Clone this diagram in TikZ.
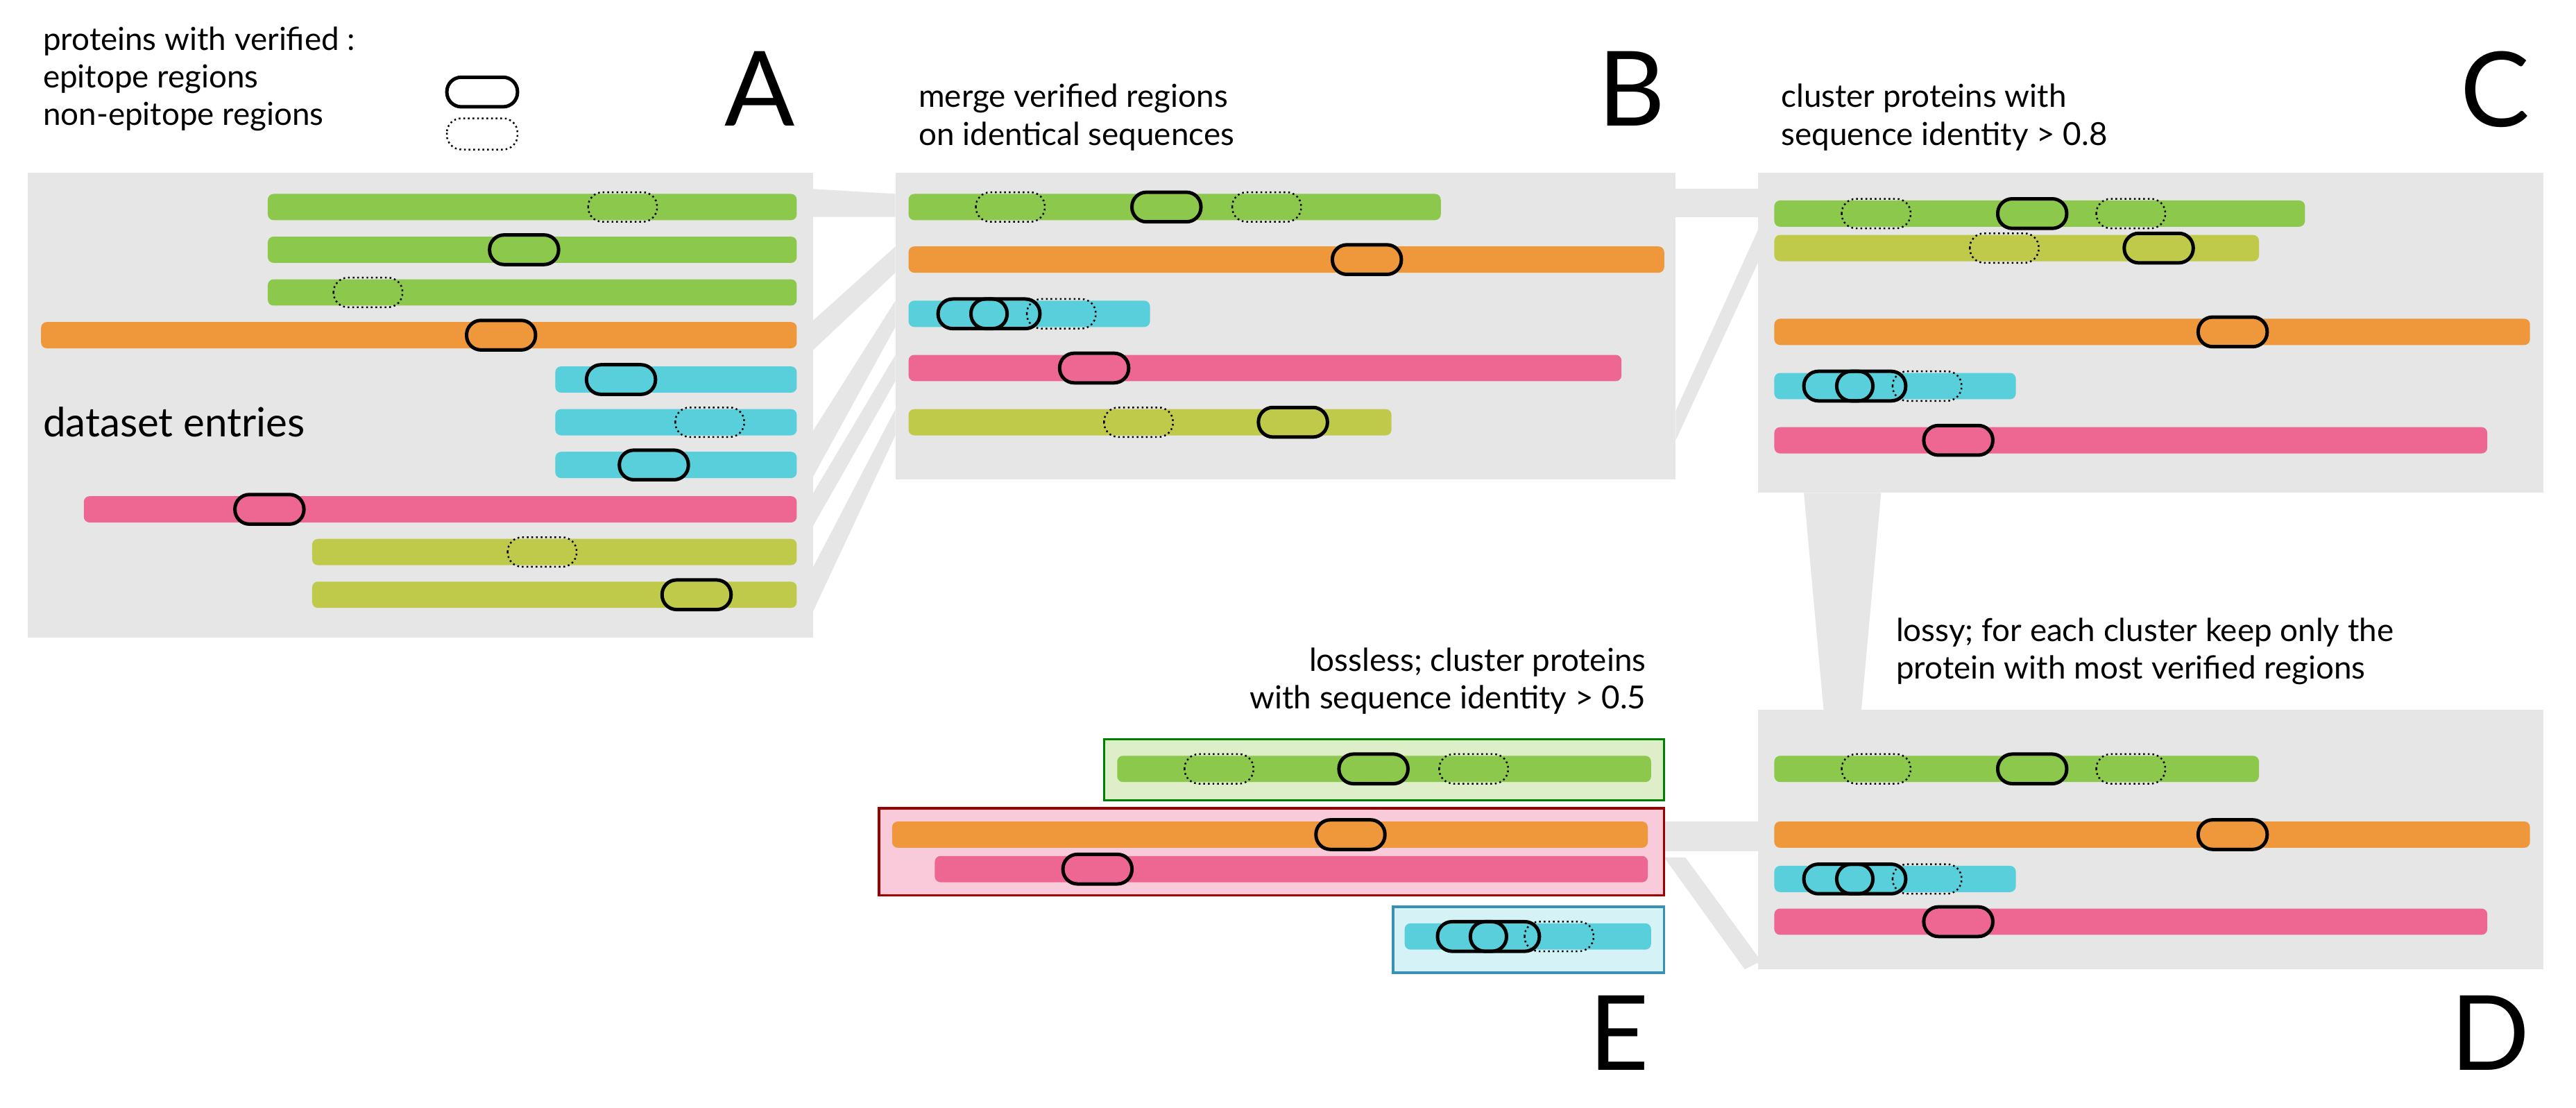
\documentclass[tikz,border=0pt]{standalone}
\usepackage{fontspec}
\setmainfont{Lato}
\definecolor{pgreen}{HTML}{8CC84B}
\definecolor{porange}{HTML}{EE983B}
\definecolor{pcyan}{HTML}{58CFDA}
\definecolor{ppink}{HTML}{EE6792}
\definecolor{polive}{HTML}{C0CA4A}
\definecolor{panel}{HTML}{E6E6E6}
\tikzset{
  epi/.style={draw=black, line width=1.2pt, rounded corners=5},
  nonepi/.style={draw=black, line width=0.6pt, densely dotted, rounded corners=5},
  band/.style={fill=panel},
  lbl/.style={font=\fontsize{36}{36}\selectfont, anchor=north east},
  captext/.style={font=\fontsize{11}{13}\selectfont, align=left, anchor=north west}
}
\newcommand\protbar[4]{\fill[#4, rounded corners=2] (#1,#3-8) rectangle (#2,#3+8);}
\newcommand\epibox[2]{\draw[epi] (#1,#2-9) rectangle (#1+42,#2+9);}
\newcommand\nonbox[2]{\draw[nonepi] (#1,#2-9) rectangle (#1+42,#2+9);}
\begin{document}
\begin{tikzpicture}[x=0.02cm,y=-0.02cm]
\useasboundingbox (0,0) rectangle (1568,674);

% panels and bands
\fill[panel] (17,105) rectangle (495,388);
\fill[panel] (545,105) rectangle (1020,292);
\fill[panel] (1070,105) rectangle (1548,300);
\fill[panel] (1070,432) rectangle (1548,590);
\fill[band] (495,115) -- (545,118) -- (545,132) -- (495,132) -- cycle;
\fill[band] (495,195) -- (545,150) -- (545,166) -- (495,213) -- cycle;
\fill[band] (495,262) -- (545,183) -- (545,199) -- (495,290) -- cycle;
\fill[band] (495,300) -- (545,216) -- (545,232) -- (495,320) -- cycle;
\fill[band] (495,345) -- (545,249) -- (545,265) -- (495,372) -- cycle;
\fill[band] (1020,115) -- (1070,115) -- (1070,132) -- (1020,132) -- cycle;
\fill[band] (1020,250) -- (1070,140) -- (1070,160) -- (1020,268) -- cycle;
\fill[band] (1098,300) -- (1145,300) -- (1133,432) -- (1110,432) -- cycle;
\fill[band] (1013,500) -- (1070,500) -- (1070,518) -- (1013,518) -- cycle;
\fill[band] (1013,522) -- (1026,522) -- (1072,585) -- (1062,590) -- cycle;

% legend and captions
\node[captext] (legend) at (20,10) {proteins with verified :\\epitope regions\\non-epitope regions};
\draw[epi] (272,47) rectangle (315,65);
\draw[nonepi] (272,72) rectangle (315,91);
\node[captext] (capB) at (553,45) {merge verified regions\\on identical sequences};
\node[captext] (capC) at (1078,45) {cluster proteins with\\sequence identity > 0.8};
\node[captext] (capD) at (1148,370) {lossy; for each cluster keep only the\\protein with most verified regions};
\node[captext, align=right, anchor=north east] (capE) at (1008,388) {lossless; cluster proteins\\with sequence identity > 0.5};
\node[font=\fontsize{14}{16}\selectfont, anchor=west] (entries) at (20,257) {dataset entries};
\node[lbl] (labA) at (490,25) {A};
\node[lbl] (labB) at (1020,25) {B};
\node[lbl] (labC) at (1546,25) {C};
\node[lbl] (labD) at (1546,600) {D};
\node[lbl] (labE) at (1010,600) {E};

% panel A
\protbar{163}{485}{126}{pgreen} \nonbox{358}{126}
\protbar{163}{485}{152}{pgreen} \epibox{298}{152}
\protbar{163}{485}{178}{pgreen} \nonbox{203}{178}
\protbar{25}{485}{204}{porange} \epibox{284}{204}
\protbar{338}{485}{231}{pcyan} \epibox{357}{231}
\protbar{338}{485}{257}{pcyan} \nonbox{411}{257}
\protbar{338}{485}{283}{pcyan} \epibox{377}{283}
\protbar{51}{485}{310}{ppink} \epibox{143}{310}
\protbar{190}{485}{336}{polive} \nonbox{309}{336}
\protbar{190}{485}{362}{polive} \epibox{403}{362}

% panel B
\protbar{553}{877}{126}{pgreen} \nonbox{594}{126} \epibox{689}{126} \nonbox{750}{126}
\protbar{553}{1013}{158}{porange} \epibox{811}{158}
\protbar{553}{700}{191}{pcyan} \epibox{571}{191} \epibox{591}{191} \nonbox{625}{191}
\protbar{553}{987}{224}{ppink} \epibox{645}{224}
\protbar{553}{847}{257}{polive} \nonbox{672}{257} \epibox{766}{257}

% panel C
\protbar{1080}{1403}{130}{pgreen} \nonbox{1121}{130} \epibox{1216}{130} \nonbox{1276}{130}
\protbar{1080}{1375}{151}{polive} \nonbox{1199}{151} \epibox{1293}{151}
\protbar{1080}{1540}{202}{porange} \epibox{1338}{202}
\protbar{1080}{1227}{235}{pcyan} \epibox{1098}{235} \epibox{1118}{235} \nonbox{1152}{235}
\protbar{1080}{1514}{268}{ppink} \epibox{1171}{268}

% panel D
\protbar{1080}{1375}{468}{pgreen} \nonbox{1121}{468} \epibox{1216}{468} \nonbox{1276}{468}
\protbar{1080}{1540}{508}{porange} \epibox{1338}{508}
\protbar{1080}{1227}{535}{pcyan} \epibox{1098}{535} \epibox{1118}{535} \nonbox{1152}{535}
\protbar{1080}{1514}{561}{ppink} \epibox{1171}{561}

% panel E
\draw[draw=green!50!black, fill=pgreen!30, line width=0.8pt] (672,450) rectangle (1013,487);
\protbar{680}{1005}{468}{pgreen} \nonbox{721}{468} \epibox{815}{468} \nonbox{876}{468}
\draw[draw=red!60!black, fill=ppink!35, line width=0.8pt] (535,492) rectangle (1013,545);
\protbar{543}{1003}{508}{porange} \epibox{801}{508}
\protbar{569}{1003}{529}{ppink} \epibox{647}{529}
\draw[draw=cyan!70!black, fill=pcyan!25, line width=0.8pt] (848,552) rectangle (1013,592);
\protbar{855}{1005}{570}{pcyan} \epibox{875}{570} \epibox{895}{570} \nonbox{928}{570}
\end{tikzpicture}
\end{document}
